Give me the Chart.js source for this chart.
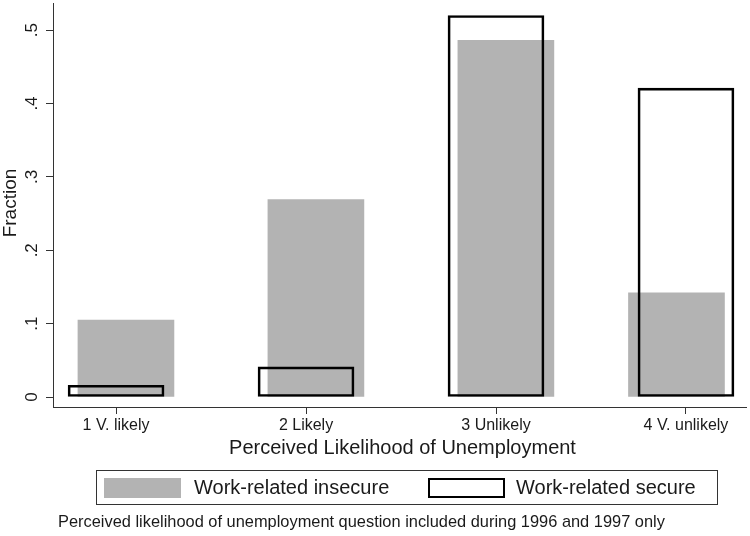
<!DOCTYPE html>
<html>
<head>
<meta charset="utf-8">
<script src="https://cdn.jsdelivr.net/npm/chart.js@4"></script>
<style>
  body { margin: 0; background: #fff; }
  canvas { display: block; }
</style>
</head>
<body>
<canvas id="chart" width="750" height="536"></canvas>
<script>
// data
const categories = ["1 V. likely", "2 Likely", "3 Unlikely", "4 V. unlikely"];
const catPos = [1, 2, 3, 4];
const insecure = [0.105, 0.269, 0.486, 0.142];
const secure = [0.016, 0.041, 0.520, 0.421];
const yTicks = [0, 0.1, 0.2, 0.3, 0.4, 0.5];
const yTickLabels = ["0", ".1", ".2", ".3", ".4", ".5"];

// gray bars sit a bit off the category centre (as in the stata figure)
const grayShift = [0.052, 0.052, 0.052, -0.05];

const FONT = "'Liberation Sans', Arial, Helvetica, sans-serif";
const INK = "#1a1a1a";
const GRAY = "#b3b3b3";

const textPlugin = {
	id: "texts",
	afterDraw(chart) {
		const ctx = chart.ctx;
		const y = chart.scales.y;
		const area = chart.chartArea;
		ctx.save();
		ctx.fillStyle = INK;

		// y tick labels, rotated
		ctx.font = "17px " + FONT;
		ctx.textAlign = "center";
		ctx.textBaseline = "middle";
		yTicks.forEach((v, i) => {
			ctx.save();
			ctx.translate(32, y.getPixelForValue(v));
			ctx.rotate(-Math.PI / 2);
			ctx.fillText(yTickLabels[i], 0, 0);
			ctx.restore();
		});

		// y title
		ctx.font = "19px " + FONT;
		ctx.save();
		ctx.translate(11, 203);
		ctx.rotate(-Math.PI / 2);
		ctx.fillText("Fraction", 0, 0);
		ctx.restore();

		// x title
		ctx.font = "20px " + FONT;
		ctx.fillText("Perceived Likelihood of Unemployment", (area.left + area.right) / 2 + 3, 448);

		// legend box
		ctx.strokeStyle = "#333";
		ctx.lineWidth = 1;
		ctx.strokeRect(96.5, 470.5, 621, 34);
		ctx.fillStyle = GRAY;
		ctx.fillRect(104, 478, 77, 20);
		ctx.strokeStyle = "#000";
		ctx.lineWidth = 2;
		ctx.strokeRect(429, 479, 75, 18);
		ctx.fillStyle = INK;
		ctx.textAlign = "left";
		ctx.font = "20px " + FONT;
		ctx.fillText("Work-related insecure", 194, 488);
		ctx.fillText("Work-related secure", 516, 488);

		// note
		ctx.font = "16.4px " + FONT;
		ctx.fillText("Perceived likelihood of unemployment question included during 1996 and 1997 only", 58, 522);
		ctx.restore();
	}
};

const ctx = document.getElementById("chart").getContext("2d");
new Chart(ctx, {
	type: "bar",
	data: {
		datasets: [
			{
				label: "Work-related insecure",
				data: insecure.map((v, i) => ({ x: catPos[i] + grayShift[i], y: v })),
				backgroundColor: GRAY,
				borderWidth: 0,
				order: 2
			},
			{
				label: "Work-related secure",
				data: secure.map((v, i) => ({ x: catPos[i], y: v })),
				backgroundColor: "rgba(0,0,0,0)",
				borderColor: "#000",
				borderWidth: 2,
				borderSkipped: false,
				order: 1
			}
		]
	},
	options: {
		responsive: false,
		animation: false,
		devicePixelRatio: 1,
		grouped: false,
		barThickness: 96,
		layout: { padding: { top: 3, right: 4, left: 0, bottom: 0 } },
		plugins: { legend: { display: false }, tooltip: { enabled: false } },
		scales: {
			x: {
				type: "linear",
				min: 0.668,
				max: 4.316,
				offset: false,
				afterBuildTicks: s => { s.ticks = catPos.map(v => ({ value: v })); },
				afterFit: s => { s.height = 129; },
				ticks: {
					autoSkip: false,
					maxRotation: 0,
					padding: 2,
					color: INK,
					font: { family: FONT, size: 16 },
					callback: v => categories[catPos.indexOf(v)]
				},
				grid: { offset: false, drawOnChartArea: false, tickLength: 7, color: "#333" },
				border: { color: "#333", width: 1 }
			},
			y: {
				type: "linear",
				min: -0.0136,
				max: 0.537,
				afterBuildTicks: s => { s.ticks = yTicks.map(v => ({ value: v })); },
				afterFit: s => { s.width = 53; },
				ticks: { display: false },
				grid: { drawOnChartArea: false, tickLength: 7, color: "#333" },
				border: { color: "#333", width: 1 }
			}
		}
	},
	plugins: [textPlugin]
});
</script>
</body>
</html>
